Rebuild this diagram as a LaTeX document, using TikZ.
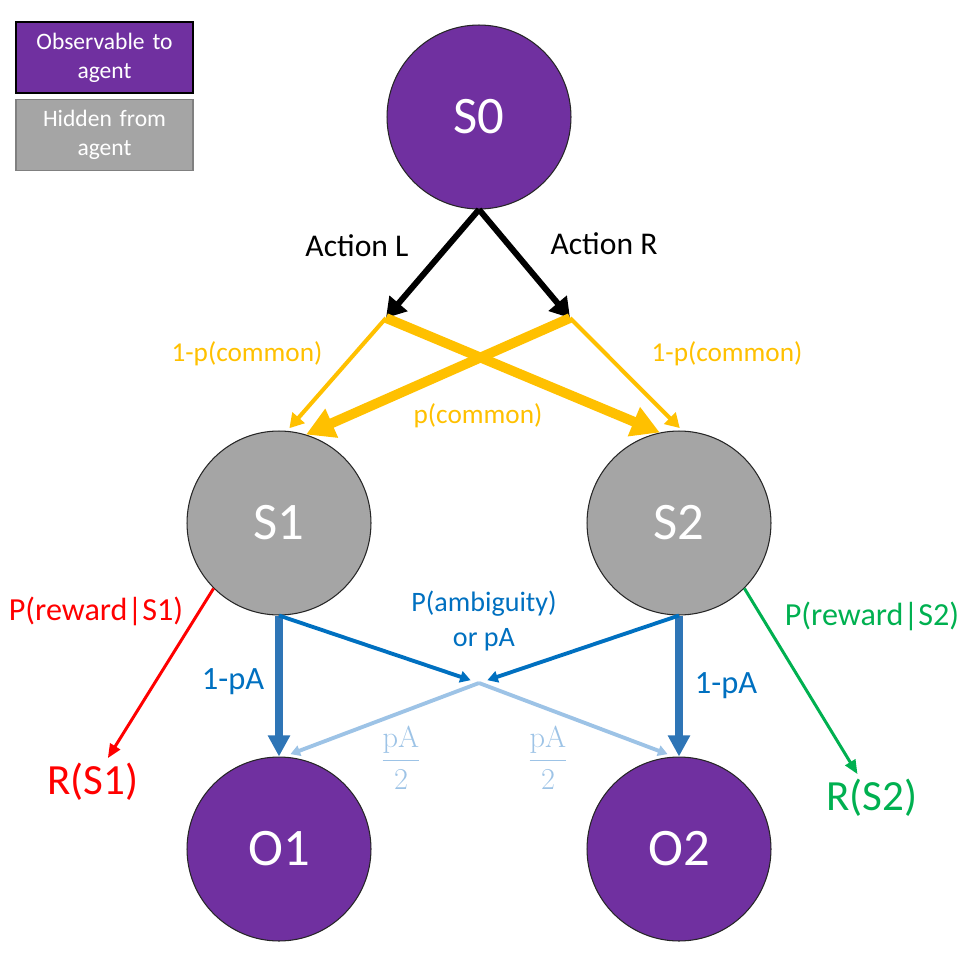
\documentclass[tikz,border=0pt]{standalone}
\usepackage[no-math]{fontspec}
\setmainfont{Carlito}
\usepackage{tikz}
\usetikzlibrary{positioning,arrows.meta,calc}

\definecolor{obspurple}{HTML}{7030A0}
\definecolor{hidgray}{HTML}{A5A5A5}
\definecolor{trgold}{HTML}{FFC000}
\definecolor{obsblue}{HTML}{2E75B6}
\definecolor{ambblue}{HTML}{0070C0}
\definecolor{lightblue}{HTML}{9DC3E6}
\definecolor{rwgreen}{HTML}{00B050}

\begin{document}
\begin{tikzpicture}[
    x=0.02cm, y=-0.02cm,
    state/.style={
        draw=black!85, line width=0.6pt, circle, inner sep=0pt,
        minimum size=3.68cm, text=white,
        font=\fontsize{30}{36}\selectfont
    },
    legendbox/.style={
        rectangle, line width=0.8pt, minimum width=3.5cm, minimum height=1.42cm,
        text width=3.3cm, align=center, text=white,
        font=\fontsize{13.4}{16.5}\selectfont
    },
    lbl/.style={font=\fontsize{15.5}{19}\selectfont, inner sep=1pt},
    action/.style={-{Triangle[length=11pt,width=13pt]}, line width=3.4pt},
    pbig/.style={-{Triangle[length=16pt,width=17pt]}, line width=5.6pt, trgold},
    psmall/.style={-{Triangle[length=8pt,width=9pt]}, line width=2.3pt, trgold, shorten >=2pt},
    obsarrow/.style={-{Triangle[length=12pt,width=12pt]}, line width=4pt, obsblue},
    ambarrow/.style={-{Triangle[length=6pt,width=6.5pt]}, line width=2.2pt, ambblue, shorten >=5pt},
    halfarrow/.style={-{Triangle[length=5.5pt,width=6pt]}, line width=2.2pt, lightblue, shorten >=4pt},
    rwarrow/.style={-{Triangle[length=8pt,width=6.5pt]}, line width=1.7pt, shorten >=2pt}
]
\useasboundingbox (0,0) rectangle (960,960);

% legend
\node[legendbox, draw=black, fill=obspurple] (legobs) at (104.5,57.5) {Observable to\\agent};
\node[legendbox, draw=black!50, fill=hidgray] (leghid) at (104.5,135) {Hidden from\\agent};

% states and observations
\node[state, fill=obspurple] (S0) at (479,117) {S0};
\node[state, fill=hidgray] (S1) at (279,523) {S1};
\node[state, fill=hidgray] (S2) at (679,523) {S2};
\node[state, fill=obspurple] (O1) at (279,849) {O1};
\node[state, fill=obspurple] (O2) at (679,849) {O2};

% branch points
\coordinate (aL) at (386,318);
\coordinate (aR) at (570,318);
\coordinate (mid) at (479,683);

% rewards
\node[red, font=\fontsize{24.5}{29}\selectfont, inner sep=1pt] (R1) at (93,782) {R(S1)};
\node[rwgreen, font=\fontsize{24.5}{29}\selectfont, inner sep=1pt] (R2) at (872,798) {R(S2)};

% actions
\draw[action] (S0.south) -- (aL);
\draw[action] (S0.south) -- (aR);
\node[lbl, font=\fontsize{18}{21}\selectfont] (actL) at (357,246) {Action L};
\node[lbl, font=\fontsize{18}{21}\selectfont] (actR) at (604,244) {Action R};

% transitions
\draw[psmall] (aL) -- (S1.85);
\draw[psmall] (aR) -- (S2.88);
\draw[pbig] (aL) -- (S2.102);
\draw[pbig] (aR) -- (S1.73);
\node[lbl, trgold] (rareL) at (247,354) {1-p(common)};
\node[lbl, trgold] (rareR) at (727,354) {1-p(common)};
\node[lbl, trgold] (common) at (478,416) {p(common)};

% observations
\draw[obsarrow] (S1.south) -- (O1.north);
\draw[obsarrow] (S2.south) -- (O2.north);
\draw[ambarrow] (S1.south) -- (mid);
\draw[ambarrow] (S2.south) -- (mid);
\draw[halfarrow] (mid) -- (O1.87);
\draw[halfarrow] (mid) -- (O2.93);
\node[lbl, ambblue, align=center, font=\fontsize{16}{19.5}\selectfont] (amb) at (484,621) {P(ambiguity)\\or pA};
\node[lbl, ambblue, font=\fontsize{18.5}{22}\selectfont] (keepL) at (233,682) {1-pA};
\node[lbl, ambblue, font=\fontsize{18.5}{22}\selectfont] (keepR) at (726,686) {1-pA};
\node[lbl, lightblue, font=\fontsize{18}{21}\selectfont] (halfL) at (401,758) {$\displaystyle\frac{\mathrm{pA}}{2}$};
\node[lbl, lightblue, font=\fontsize{18}{21}\selectfont] (halfR) at (548,758) {$\displaystyle\frac{\mathrm{pA}}{2}$};

% rewards
\draw[rwarrow, red] (S1.225) -- (R1);
\draw[rwarrow, rwgreen] (S2.-45) -- (R2);
\node[lbl, red, font=\fontsize{18.3}{22}\selectfont] (rwL) at (96,611) {P(reward|S1)};
\node[lbl, rwgreen, font=\fontsize{18.3}{22}\selectfont] (rwR) at (872,616) {P(reward|S2)};

\end{tikzpicture}
\end{document}
